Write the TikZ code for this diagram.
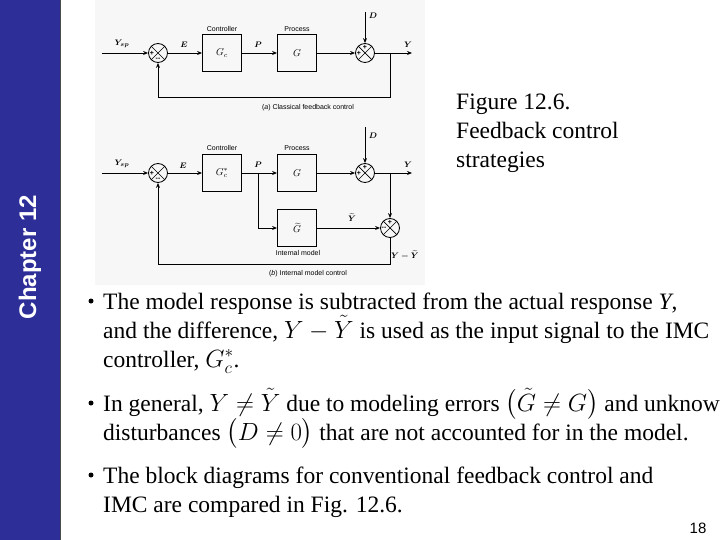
\documentclass[tikz,border=0pt]{standalone}
\usepackage{amsmath}
\usepackage{fontspec}
\setmainfont{Liberation Serif}
\newfontfamily\sansf{Liberation Sans}
\usetikzlibrary{arrows.meta}
\begin{document}
\begin{tikzpicture}[x=1pt,y=-1pt,
  sig/.style={line width=0.9pt},
  arr/.style={sig,-{Stealth[length=5pt,width=4pt]}},
  blk/.style={draw,line width=0.8pt,minimum width=39pt,minimum height=37pt,inner sep=0pt,font=\fontsize{10}{10}\selectfont},
  sumn/.style={draw,circle,line width=0.8pt,minimum size=19pt,inner sep=0pt},
  lbl/.style={font=\sansf\fontsize{7}{7}\selectfont,inner sep=0pt},
  sl/.style={font=\fontsize{8}{8}\selectfont\bfseries\itshape,inner sep=0pt},
  sg/.style={font=\sansf\bfseries\fontsize{7}{7}\selectfont,inner sep=0pt,fill=black!3},
  body/.style={anchor=base west,inner sep=0pt,font=\fontsize{23.5}{23.5}\selectfont},
  bul/.style={circle,fill=black,inner sep=0pt,minimum size=5pt}]
\useasboundingbox (0,0) rectangle (720,540);
\fill[white] (0,0) rectangle (720,540);
% sidebar
\fill[fill={rgb,255:red,46;green,46;blue,153}] (0,0) rectangle (60,540);
\draw[line width=0.8pt,black!70] (60,0) -- (60,540);
\node[rotate=90,text=white,font=\sansf\bfseries\fontsize{24}{24}\selectfont] (chap) at (30,257) {Chapter 12};
% scanned diagram background
\fill[black!3] (95,0) rectangle (425,285);
% ---- (a)
\node[sumn] (a1) at (158,53) {};
\node[blk] (ac) at (222,53) {$G_c$};
\node[blk] (ap) at (297,53) {$G$};
\node[sumn] (a2) at (365,53) {};
\foreach \s in {a1,a2}{\draw[line width=0.7pt] (\s.north east)--(\s.south west) (\s.north west)--(\s.south east);}
\coordinate (ain) at (102,53);
\coordinate (aout) at (412,53);
\coordinate (ad) at (365,12);
\coordinate (abr) at (390,53);
\draw[arr] (ain) -- (a1);
\draw[arr] (a1) -- (ac);
\draw[arr] (ac) -- (ap);
\draw[arr] (ap) -- (a2);
\draw[arr] (a2) -- (aout);
\draw[arr] (ad) -- (a2);
\draw[arr] (abr) |- (158,97) -- (a1);
\node[sl] (aysp) at (122,44) {$\boldsymbol{Y_{sp}}$};
\node[sl] (ae) at (184,45) {$\boldsymbol{E}$};
\node[sl] (ap2) at (258,45) {$\boldsymbol{P}$};
\node[sl] (ay) at (408,45) {$\boldsymbol{Y}$};
\node[sl] (add) at (373,16) {$\boldsymbol{D}$};
\node[lbl] (actl) at (222,29) {Controller};
\node[lbl] (aprc) at (297,29) {Process};
\node[sg] (a1p) at (152,53) {+};
\node[sg] (a1m) at (158,59) {--};
\node[sg] (a2t) at (365,47) {+};
\node[sg] (a2l) at (359,53) {+};
\node[lbl] (acap) at (308,108) {(\textit{a}) Classical feedback control};
% ---- (b)
\node[sumn] (b1) at (158,173) {};
\node[blk] (bc) at (222,173) {$G_c^*$};
\node[blk] (bp) at (297,173) {$G$};
\node[blk] (bm) at (297,228) {$\widetilde{G}$};
\node[sumn] (b2) at (365,173) {};
\node[sumn] (b3) at (390,228) {};
\foreach \s in {b1,b2,b3}{\draw[line width=0.7pt] (\s.north east)--(\s.south west) (\s.north west)--(\s.south east);}
\coordinate (bin) at (102,173);
\coordinate (bout) at (412,173);
\coordinate (bd) at (365,127);
\coordinate (bbr) at (390,173);
\coordinate (bpb) at (258,173);
\draw[arr] (bin) -- (b1);
\draw[arr] (b1) -- (bc);
\draw[arr] (bc) -- (bp);
\draw[arr] (bp) -- (b2);
\draw[arr] (b2) -- (bout);
\draw[arr] (bd) -- (b2);
\draw[arr] (bbr) -- (b3);
\draw[arr] (bpb) |- (bm);
\draw[arr] (bm) -- (b3);
\draw[arr] (b3) |- (158,264) -- (b1);
\node[sl] (bysp) at (122,164) {$\boldsymbol{Y_{sp}}$};
\node[sl] (be) at (183,166) {$\boldsymbol{E}$};
\node[sl] (bp2) at (258,165) {$\boldsymbol{P}$};
\node[sl] (by) at (408,165) {$\boldsymbol{Y}$};
\node[sl] (bdd) at (373,136) {$\boldsymbol{D}$};
\node[sl] (byt) at (352,218) {$\boldsymbol{\widetilde{Y}}$};
\node[sl] (byd) at (405,255) {$\boldsymbol{Y-\widetilde{Y}}$};
\node[lbl] (bctl) at (222,148) {Controller};
\node[lbl] (bprc) at (297,148) {Process};
\node[lbl] (bim) at (298,253) {Internal model};
\node[sg] (b1p) at (152,173) {+};
\node[sg] (b1m) at (158,179) {--};
\node[sg] (b2t) at (365,167) {+};
\node[sg] (b2l) at (359,173) {+};
\node[sg] (b3t) at (390,222) {+};
\node[sg] (b3l) at (384,228) {--};
\node[lbl] (bcap) at (308,274) {(\textit{b}) Internal model control};
% caption
\node[anchor=north west,align=left,inner sep=0pt,font=\fontsize{23.5}{29}\selectfont] (fig) at (456,94) {Figure 12.6.\\Feedback control\\strategies};
% bullets
\node[bul] (u1) at (91,301) {};
\node[body] (t1) at (103,309) {The model response is subtracted from the actual response \textit{Y},};
\node[body] (t2) at (103,338) {and the difference, $Y-\tilde{Y}$ is used as the input signal to the IMC};
\node[body] (t3) at (103,367) {controller, $G_c^*$.};
\node[bul] (u2) at (91,403) {};
\node[body] (t4) at (103,411) {In general, $Y\neq\tilde{Y}$ due to modeling errors $\bigl(\tilde{G}\neq G\bigr)$ and unknown};
\node[body] (t5) at (103,440) {disturbances $\bigl(D\neq 0\bigr)$ that are not accounted for in the model.};
\node[bul] (u3) at (91,475) {};
\node[body] (t6) at (103,483) {The block diagrams for conventional feedback control and};
\node[body] (t7) at (103,512) {IMC are compared in Fig. 12.6.};
\node[font=\sansf\fontsize{15}{15}\selectfont] (pg) at (698,528) {18};
\end{tikzpicture}
\end{document}
